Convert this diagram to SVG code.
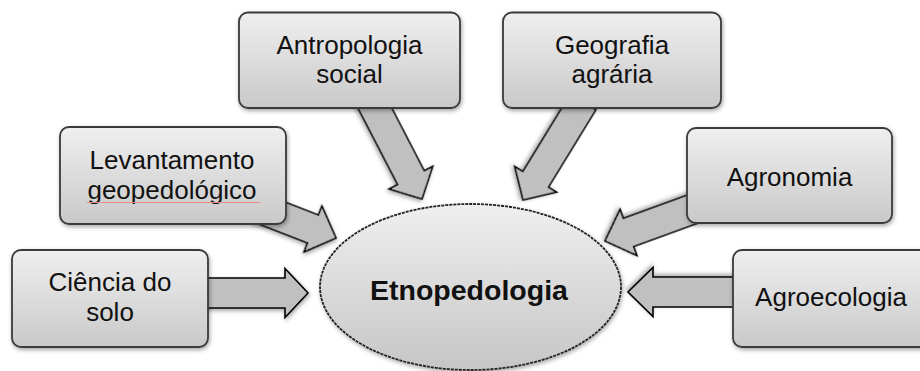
<svg xmlns="http://www.w3.org/2000/svg" width="920" height="371" viewBox="0 0 920 371">
  <defs>
    <linearGradient id="boxGrad" x1="0" y1="0" x2="0" y2="1">
      <stop offset="0" stop-color="#efefef"/>
      <stop offset="1" stop-color="#c9c9c9"/>
    </linearGradient>
    <linearGradient id="ellGrad" x1="0" y1="0" x2="0" y2="1">
      <stop offset="0" stop-color="#efefef"/>
      <stop offset="1" stop-color="#c6c6c6"/>
    </linearGradient>
    <filter id="shadow" x="-10%" y="-10%" width="125%" height="130%">
      <feDropShadow dx="1" dy="2" stdDeviation="2" flood-color="#000" flood-opacity="0.35"/>
    </filter>
  </defs>
  <style>
    .box { fill: url(#boxGrad); stroke: #3a3a3a; stroke-width: 1.8; filter: url(#shadow); }
    .arrow { fill: #c0c0c0; stroke: #000; stroke-width: 1.6; stroke-linejoin: miter; filter: url(#shadow); }
    .lbl { font-family: "Liberation Sans", Arial, sans-serif; font-size: 26px; fill: #111; text-anchor: middle; }
    .center { font-family: "Liberation Sans", Arial, sans-serif; font-size: 28.5px; font-weight: bold; fill: #111; text-anchor: middle; }
    .ell { fill: url(#ellGrad); stroke: #222; stroke-width: 1.8; stroke-dasharray: 3 1; filter: url(#shadow); }
  </style>

  <g id="connectors">
    <polygon class="arrow" transform="translate(308,293)" points="-110,-15 -23,-15 -23,-24.5 0,0 -23,24.5 -23,15 -110,15"/>
    <polygon class="arrow" transform="translate(336,238) rotate(21.3)" points="-85,-15 -24.7,-15 -24.7,-24.5 0,0 -24.7,24.5 -24.7,15 -85,15"/>
    <polygon class="arrow" transform="translate(422,199) rotate(62.6)" points="-115,-15 -24,-15 -24,-24.5 0,0 -24,24.5 -24,15 -115,15"/>
    <polygon class="arrow" transform="translate(523,200) rotate(121.5)" points="-115,-15 -24.3,-15 -24.3,-24.5 0,0 -24.3,24.5 -24.3,15 -115,15"/>
    <polygon class="arrow" transform="translate(605,241) rotate(160)" points="-100,-15 -25,-15 -25,-24.5 0,0 -25,24.5 -25,15 -100,15"/>
    <polygon class="arrow" transform="translate(628,292) rotate(180)" points="-120,-15 -25,-15 -25,-24.5 0,0 -25,24.5 -25,15 -120,15"/>
  </g>

  <g id="etnopedologia">
    <ellipse class="ell" cx="470.5" cy="287" rx="150.5" ry="83"/>
    <text class="center" x="469" y="299.5">Etnopedologia</text>
  </g>

  <g id="antropologia">
    <rect class="box" x="239" y="12.5" width="221" height="95.5" rx="9"/>
    <text class="lbl" x="349.5" y="54">Antropologia</text>
    <text class="lbl" x="349.5" y="83">social</text>
  </g>

  <g id="geografia">
    <rect class="box" x="503" y="12.5" width="218" height="95.5" rx="9"/>
    <text class="lbl" x="612" y="54">Geografia</text>
    <text class="lbl" x="612" y="83">agrária</text>
  </g>

  <g id="levantamento">
    <rect class="box" x="60" y="127" width="226" height="97" rx="9"/>
    <text class="lbl" x="172" y="169">Levantamento</text>
    <text class="lbl" x="172" y="199">geopedológico</text>
    <line x1="87" y1="202.5" x2="260" y2="202.5" stroke="#e58a8a" stroke-width="1.2"/>
  </g>

  <g id="agronomia">
    <rect class="box" x="687" y="128" width="205" height="95" rx="9"/>
    <text class="lbl" x="789.5" y="186">Agronomia</text>
  </g>

  <g id="ciencia">
    <rect class="box" x="12" y="250" width="196" height="97" rx="9"/>
    <text class="lbl" x="110" y="291">Ciência do</text>
    <text class="lbl" x="110" y="321">solo</text>
  </g>

  <g id="agroecologia">
    <rect class="box" x="733" y="250" width="196" height="97" rx="9"/>
    <text class="lbl" x="831" y="306">Agroecologia</text>
  </g>
</svg>
